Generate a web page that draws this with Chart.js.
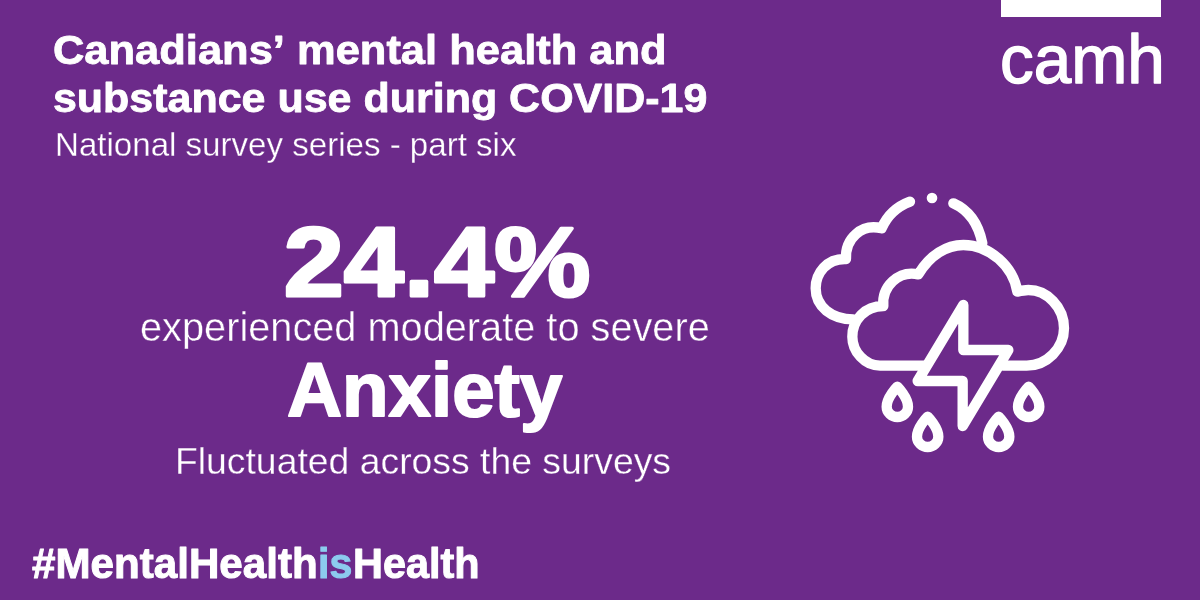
<!DOCTYPE html>
<html>
<head>
<meta charset="utf-8">
<title>Canadians’ mental health and substance use during COVID-19</title>
<script src="https://cdn.jsdelivr.net/npm/chart.js@4"></script>
<style>
  html, body { margin: 0; padding: 0; background: #6c2a8a; }
  #wrap { width: 1200px; height: 600px; overflow: hidden; }
</style>
</head>
<body>
<div id="wrap"><canvas id="card" width="1200" height="600"></canvas></div>
<script>
// --- data ---
const categories = ["Anxiety"];
const anxietyPct = [24.4];
const titleLines = ["Canadians’ mental health and", "substance use during COVID-19"];
const subtitle = "National survey series - part six";
const measureLine = "experienced moderate to severe";
const trendLine = "Fluctuated across the surveys";
const logoText = "camh";
const hashParts = ["#MentalHealth", "is", "Health"];

const BG = "#6c2a8a";
const WHITE = "#ffffff";
const SKY = "#8ccbee";
const FONT = "'Liberation Sans'";

// squeeze a line so its ink runs from left to right.
// grow > 0 fattens the glyphs, grow < 0 thins them with a background stroke
function fitText(ctx, text, left, right, baseline, size, weight, grow) {
  ctx.save();
  ctx.font = `${weight} ${size}px ${FONT}`;
  ctx.textAlign = "left";
  ctx.textBaseline = "alphabetic";
  const m = ctx.measureText(text);
  const sx = (right - left) / (m.actualBoundingBoxLeft + m.actualBoundingBoxRight);
  ctx.translate(left + m.actualBoundingBoxLeft * sx, baseline);
  ctx.scale(sx, 1);
  ctx.fillText(text, 0, 0);
  if (grow) {
    ctx.lineWidth = Math.abs(grow);
    ctx.lineJoin = "round";
    ctx.strokeStyle = grow > 0 ? ctx.fillStyle : BG;
    ctx.strokeText(text, 0, 0);
  }
  ctx.restore();
}

// icon outline, traced at 3x from x=790 y=180
const backCloud = "M360 65C320 80 290 110 275 145C215 130 165 175 168 237C110 235 77 280 77 325C77 380 125 418 190 418";
const sunArc = "M490 70C535 90 565 130 577 190";
const frontCloud = "M405 557L270 557C225 557 187 515 187 470C187 420 225 378 280 378C275 320 325 270 385 283C420 225 470 195 520 195C600 195 670 260 682 335C695 332 705 330 715 330C770 330 822 380 822 445C822 505 770 557 710 557L640 557";
const bolt = "M520 375L520 510L655 510L518 738L518 603L383 603Z";
const drop = "M0 -58C0 -58 -32 -26 -32 2C-32 19 -17 33 0 33C17 33 32 19 32 2C32 -26 0 -58 0 -58Z";

function drawIcon(ctx) {
  ctx.save();
  ctx.translate(790, 180);
  ctx.scale(1 / 3, 1 / 3);
  ctx.strokeStyle = WHITE;
  ctx.fillStyle = WHITE;
  ctx.lineWidth = 31;
  ctx.lineCap = "round";
  ctx.lineJoin = "round";
  [backCloud, sunArc, frontCloud, bolt].forEach(d => ctx.stroke(new Path2D(d)));
  ctx.beginPath();
  ctx.arc(426, 54, 16, 0, Math.PI * 2);
  ctx.fill();
  [[322, 678], [413, 768], [626, 768], [716, 678]].forEach(p => {
    ctx.save();
    ctx.translate(p[0], p[1]);
    ctx.stroke(new Path2D(drop));
    ctx.restore();
  });
  ctx.restore();
}

// --- everything on the card is drawn after the (invisible) chart area ---
const cardPlugin = {
  id: "card",
  beforeDraw(chart) {
    const ctx = chart.ctx;
    ctx.save();
    ctx.fillStyle = BG;
    ctx.fillRect(0, 0, chart.width, chart.height);
    ctx.restore();
  },
  afterDraw(chart) {
    const ctx = chart.ctx;
    const bigNumber = chart.data.datasets[0].data[0].toFixed(1) + "%";
    ctx.save();
    ctx.fillStyle = WHITE;
    fitText(ctx, titleLines[0], 54, 664, 64, 40, "bold", 0.8);
    fitText(ctx, titleLines[1], 54, 706, 112, 40, "bold", 0.8);
    fitText(ctx, subtitle, 57, 517, 156, 33, "normal", -0.3);
    fitText(ctx, bigNumber, 287, 588, 296, 98, "bold", 3);
    fitText(ctx, measureLine, 141, 708, 341, 41, "normal", -0.4);
    fitText(ctx, chart.data.labels[0], 288, 562, 416, 76, "bold", 2);
    fitText(ctx, trendLine, 177, 670, 474, 36, "normal", -0.3);

    // hashtag
    fitText(ctx, hashParts[0], 32, 316, 578, 42, "bold", 1);
    ctx.fillStyle = SKY;
    fitText(ctx, hashParts[1], 320, 351, 578, 42, "bold", 1);
    ctx.fillStyle = WHITE;
    fitText(ctx, hashParts[2], 355, 478, 578, 42, "bold", 1);

    // logo
    ctx.fillRect(1001, 0, 160, 17);
    fitText(ctx, logoText, 1002, 1161, 83, 68, "normal", 1.4);

    drawIcon(ctx);
    ctx.restore();
  }
};

new Chart(document.getElementById("card"), {
  type: "bar",
  data: {
    labels: categories,
    datasets: [{ data: anxietyPct, backgroundColor: "rgba(0,0,0,0)", borderWidth: 0 }]
  },
  options: {
    responsive: false,
    animation: false,
    events: [],
    plugins: { legend: { display: false }, tooltip: { enabled: false } },
    scales: { x: { display: false }, y: { display: false } }
  },
  plugins: [cardPlugin]
});
</script>
</body>
</html>
